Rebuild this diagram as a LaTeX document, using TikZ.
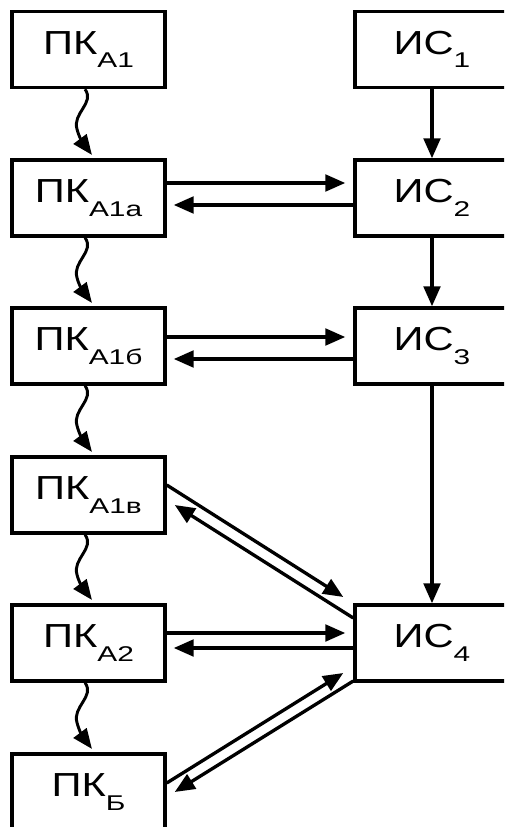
\documentclass[tikz,border=0pt]{standalone}
\usepackage{fontspec}
\setmainfont{Liberation Sans}[FakeStretch=1.25]
\newfontfamily\subfont{Liberation Sans}[FakeStretch=1.4]
\usetikzlibrary{arrows.meta,calc}
\newcommand\lsub[1]{\raisebox{-10pt}{\subfont\fontsize{16pt}{16pt}\selectfont #1}}
\tikzset{
  box/.style={draw, line width=2.6pt, minimum width=114.75pt, minimum height=57pt,
    inner sep=0pt, font=\fontsize{25pt}{25pt}\selectfont},
  rbox/.style={box, minimum width=115.5pt},
  arr/.style={line width=2.5pt, -{Triangle[length=15pt,width=12.5pt]}},
  wavy/.style={line width=2.2pt, -{Triangle[length=15pt,width=12pt]}}
}
\begin{document}
\begin{tikzpicture}[x=0.75pt,y=-0.75pt]
\clip (0,0) rectangle (504,827);
\fill[white] (0,0) rectangle (504,827);
% left column
\node[box] (a1)  at (88.5,49.5) {ПК\lsub{А1}};
\node[box] (a1a) at (88.5,198)  {ПК\lsub{А1а}};
\node[box] (a1b) at (88.5,346)  {ПК\lsub{А1б}};
\node[box] (a1v) at (88.5,495)  {ПК\lsub{А1в}};
\node[box] (a2)  at (88.5,643)  {ПК\lsub{А2}};
\node[box] (pb)  at (88.5,792)  {ПК\lsub{Б}};
% right column
\node[rbox] (i1) at (432,49.5) {ИС\lsub{1}};
\node[rbox] (i2) at (432,198)  {ИС\lsub{2}};
\node[rbox] (i3) at (432,346)  {ИС\lsub{3}};
\node[rbox] (i4) at (432,643)  {ИС\lsub{4}};
% vertical arrows on right
\draw[arr] (i1.south) -- (i2.north);
\draw[arr] (i2.south) -- (i3.north);
\draw[arr] (i3.south) -- (i4.north);
% wavy arrows on left
\foreach \u/\v in {a1/a1a, a1a/a1b, a1b/a1v, a1v/a2, a2/pb}{
  \draw[wavy] ([xshift=-2.6pt]\u.south) .. controls +(10,14) and +(-5,-16) .. ++(-8,40)
     .. controls +(2,8) and +(-9,-12) .. ([xshift=2.6pt,yshift=2.5pt]\v.north);
}
% horizontal pairs
\draw[arr] ($(a1a.east)+(0,-15)$) -- ($(i2.west)+(-8,-15)$);
\draw[arr] ($(i2.west)+(0,7)$) -- ($(a1a.east)+(7,7)$);
\draw[arr] ($(a1b.east)+(0,-9)$) -- ($(i3.west)+(-8,-9)$);
\draw[arr] ($(i3.west)+(0,13)$) -- ($(a1b.east)+(7,13)$);
\draw[arr] ($(a2.east)+(0,-10)$) -- ($(i4.west)+(-8,-10)$);
\draw[arr] ($(i4.west)+(0,5)$) -- ($(a2.east)+(7,5)$);
% diagonals
\draw[arr] ($(a1v.east)+(0,-10)$) -- ($(i4.west)+(-10,-46)$);
\draw[arr] ($(i4.west)+(0,-25)$) -- ($(a1v.east)+(8,10)$);
\draw[arr] ($(pb.east)+(0,-9)$) -- ($(i4.west)+(-10,30)$);
\draw[arr] ($(i4.west)+(0,38)$) -- ($(pb.east)+(8,0)$);
\end{tikzpicture}
\end{document}
